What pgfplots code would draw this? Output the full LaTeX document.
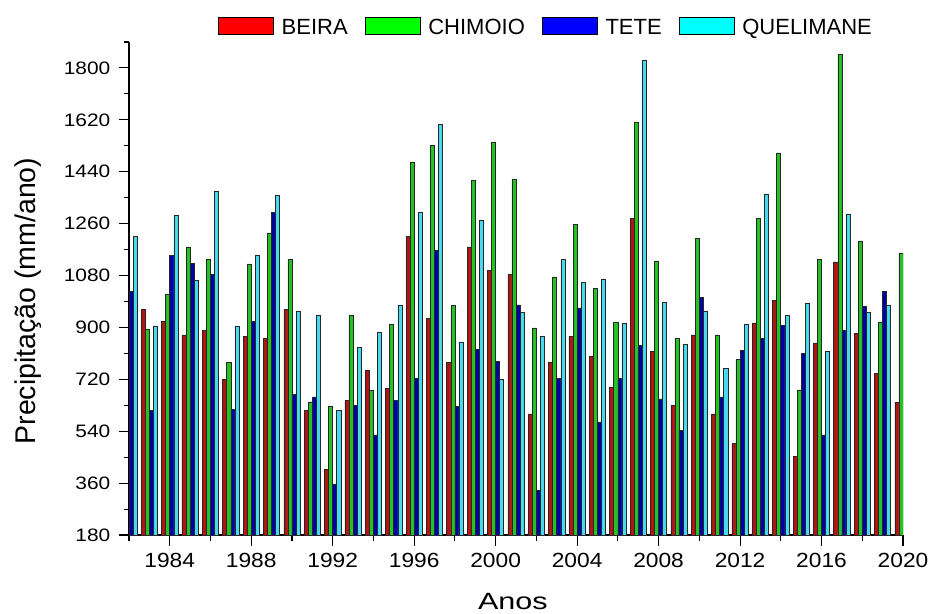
\documentclass[border=0pt]{standalone}
\usepackage{fontspec}
\setmainfont{Liberation Sans}
\newfontfamily\ytickfont[FakeStretch=1.16]{Liberation Sans}
\newfontfamily\xtickfont[FakeStretch=1.11]{Liberation Sans}
\newfontfamily\xlabfont[FakeStretch=1.3]{Liberation Sans}
\usepackage{pgfplots}
\usepackage{pgfplotstable}
\pgfplotsset{compat=1.18}
\definecolor{barred}{RGB}{180,20,20}
\definecolor{bargreen}{RGB}{35,195,35}
\definecolor{barblue}{RGB}{0,0,165}
\definecolor{barcyan}{RGB}{70,218,238}
\definecolor{legred}{RGB}{255,0,0}
\definecolor{leggreen}{RGB}{0,255,0}
\definecolor{legblue}{RGB}{0,0,255}
\definecolor{legcyan}{RGB}{0,255,255}
\pgfplotstableread{
year beira chimoio tete quelimane
1982 nan nan 1026 1215
1983 963 894 611 905
1984 920 1015 1151 1289
1985 874 1179 1121 1064
1986 889 1136 1085 1373
1987 721 779 616 905
1988 868 1120 920 1151
1989 862 1227 1300 1359
1990 963 1136 668 957
1991 611 642 659 942
1992 408 625 357 611
1993 646 941 630 832
1994 752 681 527 884
1995 689 911 646 978
1996 1215 1474 723 1300
1997 931 1531 1168 1604
1998 779 976 625 847
1999 1179 1410 825 1272
2000 1099 1543 783 721
2001 1084 1415 978 953
2002 600 898 335 868
2003 779 1075 723 1136
2004 868 1257 968 1057
2005 800 1035 572 1068
2006 693 919 723 915
2007 1278 1610 838 1827
2008 818 1131 652 988
2009 630 862 542 841
2010 874 1210 1005 957
2011 600 874 659 758
2012 498 789 819 911
2013 916 1278 863 1363
2014 995 1505 906 941
2015 452 683 810 983
2016 846 1136 527 816
2017 1127 1848 889 1294
2018 878 1200 974 953
2019 741 919 1026 978
2020 641 1158 nan nan
}\datatable
\begin{document}
\begin{tikzpicture}
\useasboundingbox (-129bp,-79bp) rectangle (801bp,535bp);
\begin{axis}[
  at={(0,0)}, anchor=south west,
  scale only axis, width=774bp, height=493bp,
  xmin=1982, xmax=2020, ymin=180, ymax=1890,
  ybar=0pt, bar width=0.2,
  axis lines*=left,
  axis line style={line width=1.1bp, black},
  tick align=outside,
  tick style={line width=1.1bp, black},
  major tick length=10.5bp, minor tick length=5.5bp,
  xtick={1984,1988,...,2020},
  minor xtick={1982,1986,...,2018},
  ytick={180,360,...,1800},
  minor ytick={270,450,...,1890},
  /pgf/number format/assume math mode=true,
  /pgf/number format/1000 sep={},
  xticklabel style={font=\xtickfont\fontsize{20.5bp}{24bp}\selectfont, inner sep=0pt, yshift=-7bp},
  yticklabel style={font=\ytickfont\fontsize{18bp}{22bp}\selectfont, inner sep=0pt, xshift=-8bp},
  xlabel={Anos},
  xlabel style={at={(axis description cs:0.496,-0.1501)}, anchor=base, font=\xlabfont\fontsize{23.5bp}{28bp}\selectfont},
  ylabel={Precipitação (mm/ano)},
  ylabel style={at={(axis description cs:-0.1214,0.4746)}, anchor=base, rotate=0, font=\fontsize{28.5bp}{34bp}\selectfont},
  legend columns=-1,
  legend style={draw=none, fill=none, inner sep=0pt, at={(0.5375,1.0501)}, anchor=north,
    font=\fontsize{22bp}{26bp}\selectfont,
    nodes={inner sep=0pt},
    /tikz/every odd column/.append style={column sep=8bp},
    /tikz/every even column/.append style={column sep=17bp}},
]
\addplot[fill=barred, draw=black!85, line width=0.6bp,
  legend image code/.code={\draw[fill=legred,draw=black,line width=0.6bp] (0bp,-7bp) rectangle (55bp,10bp);}]
  table[x=year, y=beira] {\datatable};
\addlegendentry{BEIRA}
\addplot[fill=bargreen, draw=black!85, line width=0.6bp,
  legend image code/.code={\draw[fill=leggreen,draw=black,line width=0.6bp] (0bp,-7bp) rectangle (55bp,10bp);}]
  table[x=year, y=chimoio] {\datatable};
\addlegendentry{CHIMOIO}
\addplot[fill=barblue, draw=black!85, line width=0.6bp,
  legend image code/.code={\draw[fill=legblue,draw=black,line width=0.6bp] (0bp,-7bp) rectangle (55bp,10bp);}]
  table[x=year, y=tete] {\datatable};
\addlegendentry{TETE}
\addplot[fill=barcyan, draw=black!85, line width=0.6bp,
  legend image code/.code={\draw[fill=legcyan,draw=black,line width=0.6bp] (0bp,-7bp) rectangle (55bp,10bp);}]
  table[x=year, y=quelimane] {\datatable};
\addlegendentry{QUELIMANE}
\end{axis}
\end{tikzpicture}
\end{document}
